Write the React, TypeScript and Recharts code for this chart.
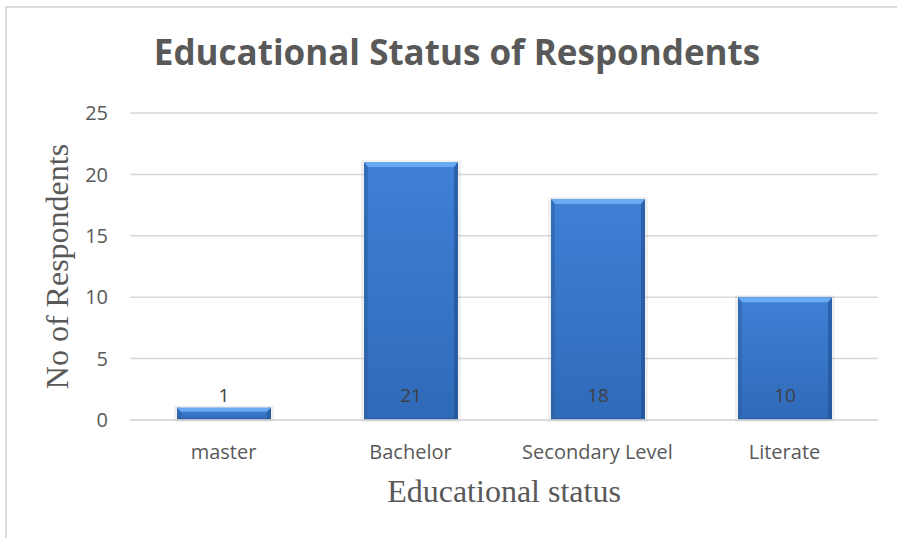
import { BarChart, Bar, XAxis, YAxis, CartesianGrid, LabelList } from "recharts";

// Survey result: respondents by education level
const categories = ["master", "Bachelor", "Secondary Level", "Literate"];
const respondents = [1, 21, 18, 10];
const yTicks = [0, 5, 10, 15, 20, 25];

const data = categories.map((name, i) => ({ name, count: respondents[i] }));

const TICK_FONT = "'Open Sans', 'Noto Sans', sans-serif";
const SERIF = "'Liberation Serif', 'DejaVu Serif', serif";

// Bevelled blue column with a soft shadow, like an office-style 3D bar
function BevelBar(props: any) {
    const { x, y, width, height } = props;
    if (!width || height <= 0) return null;
    const bevel = Math.min(5, height / 3);
    const side = 4;
    return (
        <g>
            <rect x={x - 3} y={y - 2} width={width + 6} height={height + 4} fill="#000" opacity={0.06} />
            <rect x={x} y={y} width={width} height={height} fill="url(#barBody)" />
            <rect x={x} y={y} width={side} height={height} fill="#2b5fa3" opacity={0.55} />
            <rect x={x + width - side} y={y} width={side} height={height} fill="#1f4f8f" opacity={0.6} />
            <polygon
                points={`${x},${y} ${x + width},${y} ${x + width - side},${y + bevel} ${x + side},${y + bevel}`}
                fill="#6aaaf0"
            />
            <rect x={x} y={y + height - 2} width={width} height={2} fill="#2a5c9e" opacity={0.6} />
        </g>
    );
}

function ValueLabel(props: any) {
    const { x, y, width, height, value } = props;
    const base = y + height;
    return (
        <text
            x={x + width / 2}
            y={base - 18}
            textAnchor="middle"
            fontFamily={TICK_FONT}
            fontSize={19}
            fill="#404040"
        >
            {value}
        </text>
    );
}

export default function App() {
    return (
        <div style={{ position: "absolute", left: 0, top: 0, width: 897, height: 538, background: "#fff" }}>
            <div style={{ position: "absolute", left: 5, top: 6, width: 892, height: 2, background: "#dcdcdc" }} />
            <div style={{ position: "absolute", left: 5, top: 6, width: 2, height: 532, background: "#dcdcdc" }} />
            <div
                style={{
                    position: "absolute",
                    left: 0,
                    top: 32,
                    width: 914,
                    textAlign: "center",
                    fontFamily: TICK_FONT,
                    fontWeight: 700,
                    fontSize: 35,
                    color: "#595959",
                    lineHeight: "40px",
                }}
            >
                Educational Status of Respondents
            </div>
            <BarChart
                width={897}
                height={538}
                data={data}
                margin={{ top: 113, right: 19, bottom: 88, left: 80 }}
                barSize={94}
                style={{ position: "absolute", left: 0, top: 0 }}
            >
                <defs>
                    <linearGradient id="barBody" x1="0" y1="0" x2="0" y2="1">
                        <stop offset="0%" stopColor="#3f80d6" />
                        <stop offset="100%" stopColor="#2f6ab8" />
                    </linearGradient>
                </defs>
                <CartesianGrid vertical={false} stroke="#d9d9d9" strokeWidth={1.5} />
                <XAxis
                    dataKey="name"
                    height={30}
                    tickLine={false}
                    axisLine={{ stroke: "#d9d9d9", strokeWidth: 1.5 }}
                    tickSize={0}
                    tickMargin={25}
                    tick={{ fontFamily: TICK_FONT, fontSize: 20, fill: "#595959" }}
                    label={{
                        content: ({ viewBox }: any) => (
                            <text
                                x={viewBox.x + viewBox.width / 2}
                                y={502}
                                textAnchor="middle"
                                fontFamily={SERIF}
                                fontSize={32}
                                fill="#595959"
                            >
                                Educational status
                            </text>
                        ),
                    }}
                />
                <YAxis
                    domain={[0, 25]}
                    ticks={yTicks}
                    width={50}
                    axisLine={false}
                    tickLine={false}
                    tickSize={0}
                    tickMargin={22}
                    interval={0}
                    tick={{ fontFamily: TICK_FONT, fontSize: 20, fill: "#595959" }}
                    label={{
                        content: ({ viewBox }: any) => {
                            const cx = 68;
                            const cy = viewBox.y + viewBox.height / 2;
                            return (
                                <text
                                    x={cx}
                                    y={cy}
                                    transform={`rotate(-90 ${cx} ${cy})`}
                                    textAnchor="middle"
                                    fontFamily={SERIF}
                                    fontSize={32}
                                    fill="#595959"
                                >
                                    No of Respondents
                                </text>
                            );
                        },
                    }}
                />
                <Bar dataKey="count" shape={<BevelBar />} isAnimationActive={false}>
                    <LabelList dataKey="count" content={<ValueLabel />} />
                </Bar>
            </BarChart>
        </div>
    );
}
